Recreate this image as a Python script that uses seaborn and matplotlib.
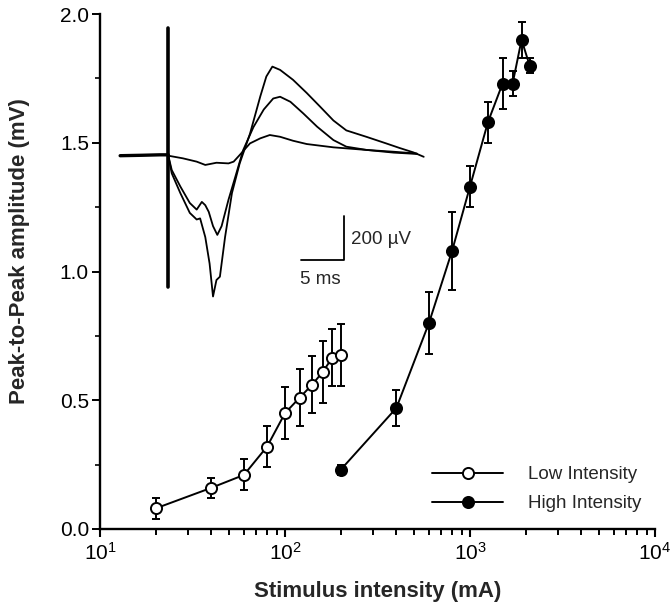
import numpy as np
import pandas as pd
import matplotlib
matplotlib.use("Agg")
import matplotlib.pyplot as plt
from matplotlib.ticker import NullFormatter
import seaborn as sns

# ---- data ----
low_x = [20, 40, 60, 80, 100, 120, 140, 160, 180, 200]
low_y = [0.08, 0.16, 0.21, 0.32, 0.45, 0.51, 0.56, 0.61, 0.665, 0.675]
low_err = [0.04, 0.04, 0.06, 0.08, 0.10, 0.11, 0.11, 0.12, 0.11, 0.12]

high_x = [200, 400, 600, 800, 1000, 1250, 1500, 1700, 1900, 2100]
high_y = [0.23, 0.47, 0.80, 1.08, 1.33, 1.58, 1.73, 1.73, 1.90, 1.80]
high_err = [0.02, 0.07, 0.12, 0.15, 0.08, 0.08, 0.10, 0.05, 0.07, 0.03]

# inset traces: time (ms) and voltage (uV)
base_t = [-5.6, -3.0, -1.0, 0.0]
base_v = [0, 2, 4, 4]

trA_t = [0, 0.4, 1.4, 2.5, 3.3, 3.7, 4.3, 4.8, 5.2, 5.6, 6.0, 6.6, 7.4, 8.3, 9.5,
         10.7, 11.4, 12.1, 13.0, 14.5, 16.1, 17.6, 19.2, 20.7, 23.1, 25.4, 26.9, 28.5, 29.7]
trA_v = [0, -80, -170, -260, -290, -285, -370, -490, -640, -565, -550, -370, -170, -35, 100,
         270, 360, 405, 390, 345, 285, 225, 160, 115, 85, 55, 35, 15, -5]

trB_t = [0, 0.4, 1.4, 2.5, 3.3, 3.9, 4.3, 4.7, 5.2, 5.7, 6.2, 7.0, 7.8, 8.7, 9.9,
         11.1, 12.2, 13.0, 14.2, 15.7, 17.3, 19.2, 20.7, 23.1, 26.2, 28.9]
trB_v = [0, -65, -140, -215, -245, -210, -225, -255, -320, -360, -320, -200, -95, 25, 130,
         210, 260, 268, 245, 192, 132, 71, 41, 26, 18, 10]

trC_t = [0, 1.7, 3.3, 4.3, 5.6, 7.0, 7.6, 8.3, 9.5, 10.7, 11.8, 13.0, 14.5, 16.1, 19.2,
         23.1, 26.2, 28.9]
trC_v = [0, -12, -27, -42, -32, -35, -27, 3, 56, 79, 94, 86, 68, 53, 38, 26, 14, 8]

stim_t = [0, 0]
stim_v = [-595, 580]

bar_t = [15.4, 20.4, 20.4]
bar_v = [-474, -474, -274]

# ---- styling ----
sns.set_theme(style="ticks")
plt.rcParams["font.family"] = ["Liberation Sans", "DejaVu Sans"]
plt.rcParams["mathtext.fontset"] = "custom"
plt.rcParams["mathtext.rm"] = "Liberation Sans"
plt.rcParams["mathtext.it"] = "Liberation Sans:italic"
plt.rcParams["mathtext.bf"] = "Liberation Sans:bold"

fig = plt.figure(figsize=(6.72, 6.11), dpi=100)
ax = fig.add_axes([100 / 672, (611 - 529) / 611, 555 / 672, 515 / 611])
ax.set_xscale("log")

low_df = pd.DataFrame({"x": low_x, "y": low_y})
high_df = pd.DataFrame({"x": high_x, "y": high_y})

ax.errorbar(low_x, low_y, yerr=low_err, fmt="none", ecolor="black",
            elinewidth=1.4, capsize=3.2, capthick=1.4, zorder=2)
ax.errorbar(high_x, high_y, yerr=high_err, fmt="none", ecolor="black",
            elinewidth=1.4, capsize=3.2, capthick=1.4, zorder=2)

sns.lineplot(data=low_df, x="x", y="y", ax=ax, color="black", lw=1.4,
             marker="o", markersize=8, markerfacecolor="white",
             markeredgecolor="black", markeredgewidth=1.4, label="Low Intensity",
             estimator=None, zorder=3)
sns.lineplot(data=high_df, x="x", y="y", ax=ax, color="black", lw=1.4,
             marker="o", markersize=8, markerfacecolor="black",
             markeredgecolor="black", markeredgewidth=1.4, label="High Intensity",
             estimator=None, zorder=3)

ax.set_xlim(10, 10000)
ax.set_ylim(0, 2.0)
ax.set_xticks([10, 100, 1000, 10000])
ax.set_xticklabels(["10$^{1}$", "10$^{2}$", "10$^{3}$", "10$^{4}$"])
minor_x = [m * d for d in (10, 100, 1000) for m in range(2, 10)]
ax.set_xticks(minor_x, minor=True)
ax.xaxis.set_minor_formatter(NullFormatter())
ax.set_yticks([0, 0.5, 1.0, 1.5, 2.0])
ax.set_yticklabels(["0.0", "0.5", "1.0", "1.5", "2.0"])
ax.set_yticks([0.25, 0.75, 1.25, 1.75], minor=True)
ax.set_xlabel("Stimulus intensity (mA)", fontsize=16, fontweight="bold", labelpad=12)
ax.set_ylabel("Peak-to-Peak amplitude (mV)", fontsize=16, fontweight="bold")
ax.yaxis.set_label_coords(-0.126, 0.54)
ax.tick_params(axis="x", which="major", direction="out", length=6, width=1.5,
               labelsize=15, color="black", labelcolor="black", bottom=True)
ax.tick_params(axis="y", which="major", direction="out", length=6, width=1.4,
               labelsize=15, color="black", labelcolor="black", pad=2, left=True)
ax.tick_params(axis="x", which="minor", direction="out", length=4.5, width=1.4,
               color="black", bottom=True)
ax.tick_params(axis="y", which="minor", direction="out", length=3.5, width=1.2,
               color="black", left=True)
for side in ["top", "right"]:
    ax.spines[side].set_visible(False)
for side in ["left", "bottom"]:
    ax.spines[side].set_linewidth(1.7)
    ax.spines[side].set_color("black")

leg = ax.legend(loc="lower right", bbox_to_anchor=(1.005, 0.0), frameon=False,
                fontsize=13.5, handlelength=3.8, labelspacing=0.62, handletextpad=1.3)

# ---- inset traces ----
ins = fig.add_axes([116.7 / 672, 312.3 / 611, 309.6 / 672, 275 / 611])
ins.set_xlim(-6, 30)
ins.set_ylim(-650, 600)
ins.axis("off")
ins.patch.set_alpha(0)
sns.lineplot(x=base_t, y=base_v, ax=ins, color="black", lw=2.4, sort=False, estimator=None)
for tt, vv in [(trA_t, trA_v), (trB_t, trB_v), (trC_t, trC_v)]:
    sns.lineplot(x=tt, y=vv, ax=ins, color="black", lw=1.3, sort=False, estimator=None)
sns.lineplot(x=stim_t, y=stim_v, ax=ins, color="black", lw=2.6, sort=False, estimator=None)
sns.lineplot(x=bar_t, y=bar_v, ax=ins, color="black", lw=1.3, sort=False, estimator=None)
ins.text(21.2, -383, "200 \u00b5V", fontsize=13.5, va="center", ha="left")
ins.text(15.3, -565, "5 ms", fontsize=13.5, va="center", ha="left")
if ins.get_legend() is not None:
    ins.get_legend().remove()

fig.savefig("out.png", dpi=100)
